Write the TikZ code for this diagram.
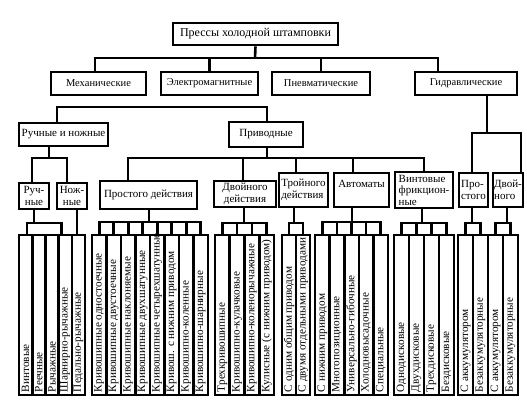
\documentclass[tikz,border=0pt]{standalone}
\usepackage{fontspec}
\setmainfont{Liberation Serif}
\newcommand{\lft}[1]{\makebox[154pt][l]{#1}}
\begin{document}
\begin{tikzpicture}[x=1pt,y=-1pt,
  box/.style={draw, line width=2.9pt, inner sep=0.5pt, font=\fontsize{11}{11.5}\selectfont, align=center},
  lbox/.style={box, align=left},
  conn/.style={line width=2.6pt},
  leaf/.style={draw, line width=2.6pt, rotate=90, minimum width=160pt, inner xsep=2pt, inner ysep=0pt, font=\fontsize{11.2}{12}\selectfont}]
\useasboundingbox (0,0) rectangle (527,402);
% level 1
\node[box, font=\fontsize{12}{13}\selectfont, minimum width=165pt, minimum height=22pt] (top) at (255.5,34) {Прессы холодной штамповки};
% level 2
\node[box, font=\fontsize{10.5}{11}\selectfont, minimum width=95pt, minimum height=23pt] (mech) at (98.5,83.5) {Механические};
\node[box, font=\fontsize{10.5}{11}\selectfont, minimum width=97pt, minimum height=23pt] (elec) at (209.5,83.5) {Электромагнитные};
\node[box, font=\fontsize{10.5}{11}\selectfont, minimum width=98pt, minimum height=23pt] (pneu) at (321,83.5) {Пневматические};
\node[box, font=\fontsize{10.5}{11}\selectfont, minimum width=102pt, minimum height=23pt] (hydr) at (466,83.5) {Гидравлические};
% level 3
\node[box, minimum width=89pt, minimum height=23pt] (rn) at (63.5,134.5) {Ручные и ножные};
\node[box, minimum width=74pt, minimum height=25pt] (priv) at (266,134.5) {Приводные};
% level 4
\node[box, minimum width=30pt, minimum height=26pt] (ruch) at (34,196) {Руч-\\ные};
\node[box, minimum width=30pt, minimum height=26pt] (nozh) at (72,196) {Нож-\\ные};
\node[box, minimum width=97pt, minimum height=28pt] (prost) at (148.5,195) {Простого действия};
\node[box, minimum width=62pt, minimum height=26pt] (dvoin) at (245,194) {Двойного\\действия};
\node[lbox, minimum width=49pt, minimum height=34pt] (troin) at (303.5,190) {Тройного\\действия};
\node[box, minimum width=55pt, minimum height=34pt] (avt) at (361.5,190) {Автоматы\\\mbox{}};
\node[lbox, minimum width=58pt, minimum height=36pt] (vint) at (424,190) {Винтовые\\фрикцион-\\ные};
\node[lbox, minimum width=29pt, minimum height=34pt] (hp) at (473.5,190) {Про-\\стого};
\node[lbox, minimum width=30pt, minimum height=34pt] (hd) at (508,190) {Двой-\\ного};
% leaves
\node[leaf, minimum height=13.2pt] (a1) at (25.6,315) {\lft{Винтовые}};
\node[leaf, minimum height=13.2pt] (a2) at (38.8,315) {\lft{Реечные}};
\node[leaf, minimum height=13.2pt] (a3) at (52.0,315) {\lft{Рычажные}};
\node[leaf, minimum height=13.2pt] (a4) at (65.2,315) {\lft{Шарнирно-рычажные}};
\node[leaf, minimum height=13.2pt] (a5) at (78.4,315) {\lft{Педально-рычажные}};
\node[leaf, minimum height=14.5pt] (b1) at (99.25,315) {\lft{Кривошипные одностоечные}};
\node[leaf, minimum height=14.5pt] (b2) at (113.75,315) {\lft{Кривошипные двустоечные}};
\node[leaf, minimum height=14.5pt] (b3) at (128.25,315) {\lft{Кривошипные наклоняемые}};
\node[leaf, minimum height=14.5pt] (b4) at (142.75,315) {\lft{Кривошипные двухшатунные}};
\node[leaf, minimum height=14.5pt] (b5) at (157.25,315) {\lft{Кривошипные четырехшатунные}};
\node[leaf, minimum height=14.5pt] (b6) at (171.75,315) {\lft{Кривош. с нижним приводом}};
\node[leaf, minimum height=14.5pt] (b7) at (186.25,315) {\lft{Кривошипно-коленные}};
\node[leaf, minimum height=14.5pt] (b8) at (200.75,315) {\lft{Кривошипно-шарнирные}};
\node[leaf, minimum height=14.75pt] (c1) at (222.375,315) {\lft{Трехкривошипные}};
\node[leaf, minimum height=14.75pt] (c2) at (237.125,315) {\lft{Кривошипно-кулачковые}};
\node[leaf, minimum height=14.75pt] (c3) at (251.875,315) {\lft{Кривошипно-коленорычажные}};
\node[leaf, minimum height=14.75pt] (c4) at (266.625,315) {\lft{Кулисные (с нижним приводом)}};
\node[leaf, minimum height=14pt] (d1) at (289,315) {\lft{С одним общим приводом}};
\node[leaf, minimum height=14pt] (d2) at (303,315) {\lft{С двумя отдельными приводами}};
\node[leaf, minimum height=14.6pt] (e1) at (322.3,315) {\lft{С нижним приводом}};
\node[leaf, minimum height=14.6pt] (e2) at (336.9,315) {\lft{Многопозиционные}};
\node[leaf, minimum height=14.6pt] (e3) at (351.5,315) {\lft{Универсально-гибочные}};
\node[leaf, minimum height=14.6pt] (e4) at (366.1,315) {\lft{Холодновысадочные}};
\node[leaf, minimum height=14.6pt] (e5) at (380.7,315) {\lft{Специальные}};
\node[leaf, minimum height=15pt] (f1) at (401.5,315) {\lft{Однодисковые}};
\node[leaf, minimum height=15pt] (f2) at (416.5,315) {\lft{Двухдисковые}};
\node[leaf, minimum height=15pt] (f3) at (431.5,315) {\lft{Трехдисковые}};
\node[leaf, minimum height=15pt] (f4) at (446.5,315) {\lft{Бездисковые}};
\node[leaf, minimum height=15pt] (g1) at (465.5,315) {\lft{С аккумулятором}};
\node[leaf, minimum height=15pt] (g2) at (480.5,315) {\lft{Безаккумуляторные}};
\node[leaf, minimum height=15pt] (g3) at (495.5,315) {\lft{С аккумулятором}};
\node[leaf, minimum height=15pt] (g4) at (510.5,315) {\lft{Безаккумуляторные}};
% connectors level 1 -> 2
\coordinate (t1) at (255,58);
\draw[conn] (top.south) -- (t1);
\draw[conn] ([xshift=-3.5pt]mech.north) |- (t1);
\draw[conn] (elec.north) |- (t1);
\draw[conn] (pneu.north) |- (t1);
\draw[conn] ([xshift=-28pt]hydr.north) |- (t1);
% mechanical bracket
\coordinate (mj) at (162,107);
\draw[conn] ([xshift=-6.5pt]rn.north) |- (mj) -| ([xshift=1pt]priv.north);
% hand and foot
\coordinate (rj) at (49,158);
\draw[conn] ([xshift=-14.5pt]rn.south) -- (rj);
\draw[conn] ([xshift=-2pt]ruch.north) |- (rj);
\draw[conn] ([xshift=-5pt]nozh.north) |- (rj);
% driven
\coordinate (pj) at (267,158);
\draw[conn] ([xshift=1pt]priv.south) -- (pj);
\draw[conn] ([xshift=-20.5pt]prost.north) |- (pj);
\draw[conn] ([xshift=-2pt]dvoin.north) |- (pj);
\draw[conn] ([xshift=-7.5pt]troin.north) |- (pj);
\draw[conn] ([xshift=-8.5pt]avt.north) |- (pj);
\draw[conn] (vint.north) |- (pj);
% hydraulic
\coordinate (hj) at (487,133);
\draw[conn] ([xshift=21pt]hydr.south) -- (hj);
\draw[conn] ([xshift=-1.5pt]hp.north) |- (hj);
\draw[conn] ([xshift=13pt]hd.north) |- (hj);
% leaves connectors
\coordinate (raj) at (34,223);
\draw[conn] (ruch.south) -- (raj);
\draw[conn] ([xshift=1.4pt]a1.east) |- (raj);
\draw[conn] ([xshift=-4pt]a4.east) |- (raj);
\draw[conn] ([xshift=5pt]nozh.south) -- ([xshift=-1.4pt]a5.east);
\coordinate (bj) at (149,222);
\draw[conn] ([xshift=0.5pt]prost.south) -- (bj);
\foreach \n in {b1,b2,b3,b4,b5,b6,b7,b8} {\draw[conn] (\n.east) |- (bj);}
\coordinate (cj) at (244,223);
\draw[conn] ([xshift=-1pt]dvoin.south) -- (cj);
\foreach \n in {c1,c2,c3,c4} {\draw[conn] (\n.east) |- (cj);}
\coordinate (dj) at (294,223);
\draw[conn] ([xshift=-9.5pt]troin.south) -- (dj);
\foreach \n in {d1,d2} {\draw[conn] (\n.east) |- (dj);}
\coordinate (ej) at (352,222);
\draw[conn] ([xshift=-9.5pt]avt.south) -- (ej);
\foreach \n in {e1,e2,e3,e4,e5} {\draw[conn] (\n.east) |- (ej);}
\coordinate (fj) at (422,223);
\draw[conn] ([xshift=-2pt]vint.south) -- (fj);
\foreach \n in {f1,f2,f3,f4} {\draw[conn] (\n.east) |- (fj);}
\coordinate (gj) at (472,223);
\draw[conn] ([xshift=-1.5pt]hp.south) -- (gj);
\foreach \n in {g1,g2} {\draw[conn] (\n.east) |- (gj);}
\coordinate (hgj) at (507,223);
\draw[conn] ([xshift=-1pt]hd.south) -- (hgj);
\foreach \n in {g3,g4} {\draw[conn] (\n.east) |- (hgj);}
\end{tikzpicture}
\end{document}
